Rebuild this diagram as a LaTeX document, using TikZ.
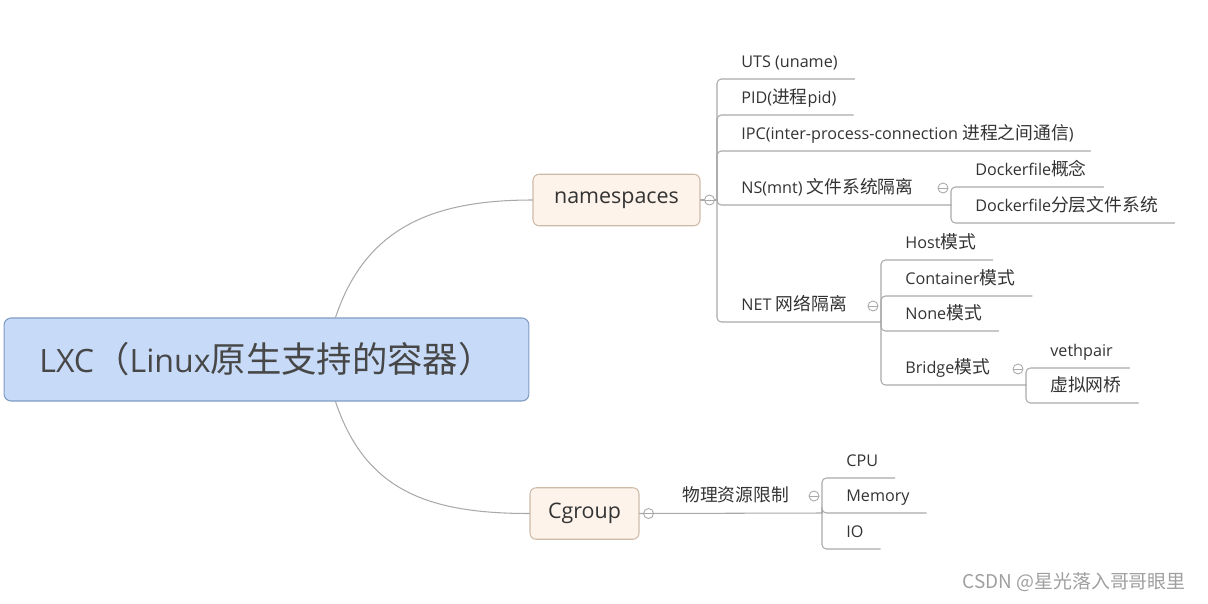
\documentclass[tikz,border=0pt]{standalone}
\usepackage{fontspec}
\setmainfont{Open Sans}
\newfontfamily\zhfont[Scale=1.1]{Noto Sans CJK SC}
\newcommand{\zh}[1]{{\zhfont #1}}
\usepackage{tikz}
\usetikzlibrary{positioning}
\definecolor{lineg}{HTML}{A9A9A9}
\definecolor{txt}{HTML}{333333}
\definecolor{rootfill}{HTML}{C7DBF9}
\definecolor{rootdraw}{HTML}{7F9CC4}
\definecolor{topfill}{HTML}{FDF3EA}
\definecolor{topdraw}{HTML}{CDBBA8}
\tikzset{
    mindmap/.style={x=0.02cm, y=-0.02cm, line cap=round, text=txt,
                     font=\fontsize{9.2}{11}\selectfont},
    rootbox/.style={rectangle, rounded corners=4pt, draw=rootdraw, fill=rootfill,
                     line width=0.6pt, minimum width=10.5cm, minimum height=1.66cm,
                     font=\fontsize{18.3}{22}\selectfont, text=txt!90!white},
    topic/.style={rectangle, rounded corners=3.5pt, draw=topdraw, fill=topfill,
                     line width=0.6pt, minimum height=1.03cm,
                     font=\fontsize{12.2}{14}\selectfont},
    leaf/.style={anchor=south west, inner xsep=0pt, inner ysep=0pt, text depth=0.22cm,
                     execute at begin node=\hspace*{0.48cm},
                     execute at end node=\hspace*{0.33cm}},
    branch/.style={draw=lineg, line width=0.6pt, rounded corners=2.5pt},
    curve/.style={draw=lineg, line width=0.6pt},
    fold/.style={circle, draw=lineg, fill=white, line width=0.5pt, inner sep=0pt,
                     minimum size=0.2cm,
                     path picture={\draw[lineg, line width=0.5pt]
                       ([xshift=-0.09cm]path picture bounding box.center) --
                       ([xshift=0.09cm]path picture bounding box.center);}},
    }

\begin{document}
\begin{tikzpicture}[mindmap]
    \useasboundingbox (0,0) rectangle (1208,603);

    % main topics
    \node[rootbox] (root) at (266.5,359.5) {LXC\zh{（}Linux\zh{原生支持的容器）}};
    \node[topic, minimum width=3.34cm] (ns) at (616.5,200) {namespaces};
    \node[topic, minimum width=2.18cm] (cg) at (584.5,513.5) {Cgroup};

    \draw[curve] ([xshift=1.38cm]root.north) .. controls +(30,-90) and +(-100,0) .. (ns.west);
    \draw[curve] ([xshift=1.38cm]root.south) .. controls +(30,90) and +(-100,0) .. (cg.west);

    % hubs
    \coordinate (nshub) at (717,200);
    \coordinate (mnthub) at (951,205);
    \coordinate (nethub) at (881,322);
    \coordinate (brhub) at (1026,385);
    \coordinate (cghub) at (822,513);

    % namespaces
    \node[leaf] (uts) at (717,79) {UTS (uname)};
    \node[leaf] (pid) at (717,115) {PID(\zh{进程}pid)};
    \node[leaf] (ipc) at (717,151) {IPC(inter-process-connection \zh{进程之间通信})};
    \node[leaf] (mnt) at (717,205) {NS(mnt) \zh{文件系统隔离}};
    \node[leaf] (net) at (717,322) {NET \zh{网络隔离}};
    \node[leaf] (df1) at (951,187) {Dockerfile\zh{概念}};
    \node[leaf] (df2) at (951,223) {Dockerfile\zh{分层文件系统}};
    \node[leaf] (host) at (881,260) {Host\zh{模式}};
    \node[leaf] (cont) at (881,296) {Container\zh{模式}};
    \node[leaf] (none) at (881,331) {None\zh{模式}};
    \node[leaf] (bridge) at (881,385) {Bridge\zh{模式}};
    \node[leaf] (veth) at (1026,368) {vethpair};
    \node[leaf] (vbr) at (1026,403) {\zh{虚拟网桥}};

    \draw[branch] (ns.east) -- (nshub);
    \draw[branch] (nshub) |- (uts.south east);
    \draw[branch] (nshub) |- (pid.south east);
    \draw[branch] (nshub) |- (ipc.south east);
    \draw[branch] (nshub) |- (mnthub);
    \draw[branch] (nshub) |- (nethub);
    \draw[branch] (mnthub) |- (df1.south east);
    \draw[branch] (mnthub) |- (df2.south east);
    \draw[branch] (nethub) |- (host.south east);
    \draw[branch] (nethub) |- (cont.south east);
    \draw[branch] (nethub) |- (none.south east);
    \draw[branch] (nethub) |- (brhub);
    \draw[branch] (brhub) |- (veth.south east);
    \draw[branch] (brhub) |- (vbr.south east);

    % Cgroup
    \node[leaf, execute at begin node=\hspace*{0.38cm}] (res) at (639,513) {\zh{物理资源限制}};
    \node[leaf] (cpu) at (822,478) {CPU};
    \node[leaf] (mem) at (822,513) {Memory};
    \node[leaf] (io) at (822,549) {IO};

    \draw[branch] (cg.east) -- (cghub);
    \draw[branch] (cghub) |- (cpu.south east);
    \draw[branch] (cghub) |- (mem.south east);
    \draw[branch] (cghub) |- (io.south east);

    % fold marks
    \node[fold] (f1) at ([xshift=0.18cm]ns.east) {};
    \node[fold] (f2) at ([shift={(-8,-17)}]mnthub) {};
    \node[fold] (f3) at ([shift={(-8,-16)}]nethub) {};
    \node[fold] (f4) at ([shift={(-8,-16)}]brhub) {};
    \node[fold] (f5) at ([xshift=0.18cm]cg.east) {};
    \node[fold] (f6) at ([shift={(-8,-17)}]cghub) {};

    \node[anchor=east, text=gray!75, font={\zhfont\fontsize{9.8}{11}\selectfont}] (mark) at (1192,582) {CSDN @星光落入哥哥眼里};
\end{tikzpicture}
\end{document}
